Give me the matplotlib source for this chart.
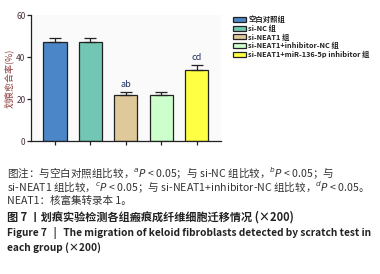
import matplotlib
matplotlib.use('Agg')
import matplotlib.pyplot as plt
from matplotlib.patches import Patch

plt.rcParams['font.family'] = ['Noto Sans CJK SC', 'DejaVu Sans']
plt.rcParams['mathtext.fontset'] = 'dejavusans'

groups = ['空白对照组', 'si-NC 组', 'si-NEAT1 组', 'si-NEAT1+inhibitor-NC 组',
          'si-NEAT1+miR-136-5p inhibitor 组']
values = [47.2, 47.3, 21.9, 22.0, 33.9]
errors = [2.0, 2.0, 1.4, 1.3, 2.3]
marks = ['', '', 'ab', '', 'cd']
colors = ['#4a86c8', '#72c7b4', '#dfc99b', '#ccffcc', '#ffff44']

fig = plt.figure(figsize=(3.8, 2.74), dpi=100)
fig.patch.set_facecolor('white')

ax = fig.add_axes([0.0816, 0.485, 0.50, 0.46])
ax.set_facecolor('#fafafa')
xs = list(range(len(values)))
ax.bar(xs, values, width=0.65, color=colors, edgecolor='#222222', linewidth=0.9, zorder=2)
ax.errorbar(xs, values, yerr=[[0] * len(errors), errors], fmt='none', ecolor='#222222',
            elinewidth=0.9, capsize=4, capthick=0.9, zorder=3)
for x, v, e, m in zip(xs, values, errors, marks):
    if m:
        ax.text(x, v + e + 1.5, m, ha='center', va='bottom', fontsize=6.5, color='#1f2f5f')

ax.set_xlim(-0.676, 4.68)
ax.set_ylim(0, 60)
ax.set_yticks([0, 20, 40, 60])
ax.set_xticks(xs)
ax.set_xticklabels([])
ax.tick_params(axis='y', labelsize=6, colors='#222222', labelcolor='#4a3040', length=3, width=0.9, pad=1)
ax.tick_params(axis='x', length=3, width=0.9, colors='#222222')
for s in ['top', 'right']:
    ax.spines[s].set_visible(False)
for s in ['left', 'bottom']:
    ax.spines[s].set_linewidth(0.9)
    ax.spines[s].set_color('#222222')
ax.set_ylabel('划痕愈合率(%)', fontsize=6.5, color='#8b3a3a', labelpad=2)

handles = [Patch(facecolor=c, edgecolor='#222222', linewidth=0.9) for c in colors]
leg = fig.legend(handles, groups, loc='upper left', bbox_to_anchor=(0.613, 0.945), frameon=False,
                 fontsize=5.3, handlelength=1.75, handleheight=0.65, handletextpad=0.3,
                 labelspacing=0.2, borderaxespad=0, borderpad=0)
for t in leg.get_texts():
    t.set_fontweight('bold')
    t.set_color('#222222')

cap = '#333333'
fs = 7.6
fig.text(0.018, 1 - 173 / 274, '图注：与空白对照组比较，$^{a}P$ < 0.05；与 si-NC 组比较，$^{b}P$ < 0.05；与',
         fontsize=fs, color=cap, va='center')
fig.text(0.018, 1 - 187 / 274, 'si-NEAT1 组比较，$^{c}P$ < 0.05；与 si-NEAT1+inhibitor-NC 组比较，$^{d}P$ < 0.05。',
         fontsize=fs, color=cap, va='center')
fig.text(0.018, 1 - 201 / 274, 'NEAT1：核富集转录本 1。', fontsize=fs, color=cap, va='center')
fig.text(0.018, 1 - 217 / 274, '图 7 丨划痕实验检测各组瘢痕成纤维细胞迁移情况 (×200)', fontsize=8,
         color='#222222', va='center', fontweight='bold')
fig.text(0.018, 1 - 233 / 274, 'Figure 7   |   The migration of keloid fibroblasts detected by scratch test in',
         fontsize=7.3, color='#222222', va='center', fontweight='bold')
fig.text(0.018, 1 - 248 / 274, 'each group (×200)', fontsize=7.3, color='#222222', va='center',
         fontweight='bold')

fig.savefig('out.png', dpi=100)
